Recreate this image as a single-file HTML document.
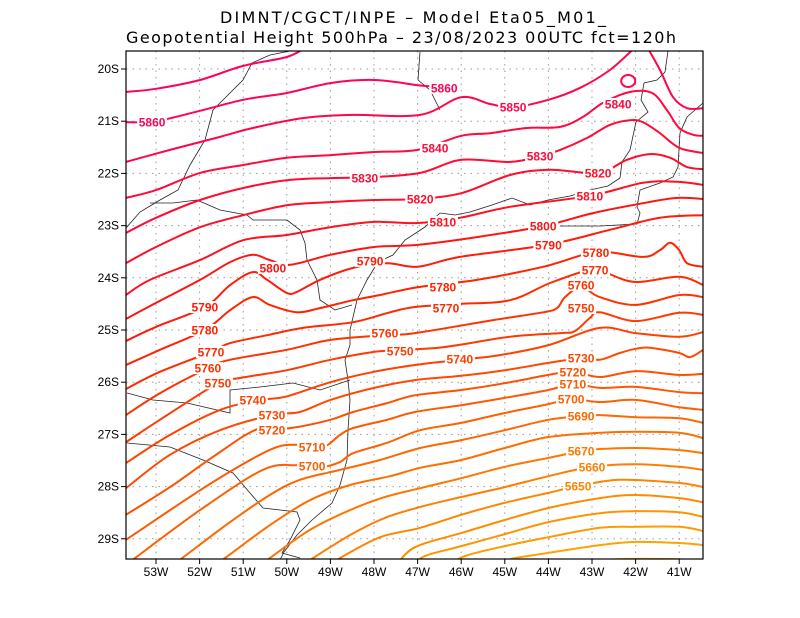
<!DOCTYPE html>
<html><head><meta charset="utf-8"><title>Geopotential Height 500hPa</title>
<style>
html,body{margin:0;padding:0;background:#fff;}
svg{display:block;font-family:"Liberation Sans",Arial,sans-serif;}
</style></head>
<body>
<svg id="chart" width="800" height="618" viewBox="0 0 800 618" xmlns="http://www.w3.org/2000/svg">
<rect x="0" y="0" width="800" height="618" fill="#fff"/>
<text x="220" y="23" font-size="16" textLength="386" lengthAdjust="spacing" style="font-family:'DejaVu Sans',sans-serif" fill="#000">DIMNT/CGCT/INPE – Model Eta05_M01_</text>
<text x="126" y="43" font-size="16" textLength="550" lengthAdjust="spacing" style="font-family:'DejaVu Sans',sans-serif" fill="#000">Geopotential Height 500hPa – 23/08/2023 00UTC fct=120h</text>
<defs><clipPath id="plotclip"><rect x="126" y="51" width="577" height="508"/></clipPath></defs>
<g id="grid"></g>
<g id="map" clip-path="url(#plotclip)">
<path d="M668 51 L665 72 L657 80 L644 83 L641 100 L648 112 L636 122 L630 150 L622 162 L620 178 L608 186 L590 190 L570 196 L548 200 L530 205 L512 198 L492 205 L470 212 L455 215 L440 213 L425 227 L405 240 L393 255 L378 262 L367 280 L357 300 L350 330 L350 345 L345 360 L348 380 L350 400 L348 430 L347 460 L340 485 L332 503 L312 520 L297 535 L284 552 L280 560" fill="none" stroke="#222" stroke-width="0.8"/>
<path d="M703 103 L687 117 L680 133 L678 167 L673 177 L660 183 L640 190 L637 207 L640 213 L637 224 L600 226 L560 226" fill="none" stroke="#222" stroke-width="0.8"/>
<path d="M126 228 L140 212 L160 200 L178 190 L190 165 L205 140 L213 110 L228 95 L243 80 L252 63 L270 55 L290 51" fill="none" stroke="#222" stroke-width="0.8"/>
<path d="M150 203 L173 203 L197 200 L220 210 L247 215 L253 220 L287 220 L300 230 L305 243 L307 260 L317 280 L320 300 L335 310 L352 305" fill="none" stroke="#222" stroke-width="0.8"/>
<path d="M127 393 L153 400 L187 403 L230 413 L230 390 L260 387 L293 383 L320 390 L350 380" fill="none" stroke="#222" stroke-width="0.8"/>
<path d="M127 443 L170 447 L203 460 L233 473 L250 493 L263 508 L297 512 L300 520 L290 540 L282 553 L300 558" fill="none" stroke="#222" stroke-width="0.8"/>
<path d="M420 52 L418 80 L430 90 L440 110" fill="none" stroke="#222" stroke-width="0.8"/>
</g>
<g id="contours" clip-path="url(#plotclip)"></g>
<g id="labels"></g>
<g id="axes"></g>
<rect x="126" y="51" width="577" height="508" fill="none" stroke="#000" stroke-width="1.2"/>
</svg>
<script>
// ---- data (lon in degrees West, lat in degrees South) ----
const lonTicks = [53,52,51,50,49,48,47,46,45,44,43,42,41];
const latTicks = [20,21,22,23,24,25,26,27,28,29];
const levels = [5870,5860,5850,5850,5840,5830,5820,5810,5800,5790,5780,5770,5760,5750,5740,5730,5720,5710,5700,5690,5680,5670,5660,5650,5640,5630,5620,5610,5600];
const lons5870 = [53.69,53.0,51.99,51.0,50.0,49.59];
const lats5870 = [20.44,20.38,20.21,19.94,19.77,19.60];
const lons5860 = [53.69,53.0,51.99,51.0,50.0,49.0,48.0,47.0,46.72];
const lats5860 = [21.02,21.0,20.80,20.59,20.46,20.27,20.21,20.31,20.33];
const lons5850 = [53.69,52.68,51.53,50.78,49.63,48.48,46.94,46.0,45.34,44.81,44.0,43.27,42.59,42.08];
const lats5850 = [21.78,21.55,21.30,21.13,20.94,20.88,20.88,20.54,20.67,20.73,20.59,20.36,20.02,19.64];
const lons5850b = [41.72,41.44,41.14,40.82,40.45];
const lats5850b = [19.60,20.02,20.54,20.75,20.75];
const lons5840 = [53.69,53.0,51.99,51.0,50.0,49.0,48.0,47.0,46.0,45.34,44.49,43.73,43.21,42.75,42.13,41.62,41.28,41.0,40.68,40.45];
const lats5840 = [22.47,22.32,21.99,21.84,21.70,21.65,21.59,21.55,21.28,21.23,21.13,21.11,20.92,20.65,20.44,20.46,20.79,21.13,21.26,21.28];
const lons5830 = [53.69,53.0,51.99,51.0,50.0,49.0,48.0,46.94,46.0,44.88,44.19,43.73,43.11,42.59,42.13,41.83,41.44,41.0,40.45];
const lats5830 = [23.14,22.85,22.51,22.28,22.13,22.09,22.07,21.99,21.74,21.78,21.67,21.55,21.32,21.07,20.98,21.02,21.23,21.51,21.61];
const lons5820 = [53.69,53.0,51.99,51.0,50.0,49.0,48.0,47.0,46.0,44.88,43.96,42.86,42.20,41.67,41.21,40.82,40.45];
const lats5820 = [23.72,23.41,23.03,22.80,22.61,22.55,22.51,22.49,22.38,22.03,21.93,21.99,21.74,21.63,21.70,21.88,21.92];
const lons5810 = [53.69,53.14,51.99,51.0,50.0,49.0,48.0,47.0,46.03,44.88,43.05,41.83,41.05,40.45];
const lats5810 = [24.33,24.04,23.66,23.28,23.18,23.03,22.93,22.95,22.85,22.64,22.43,22.18,22.16,22.22];
const lons5800 = [53.69,53.0,51.99,51.30,50.78,50.39,49.93,49.0,48.0,47.0,45.64,44.12,42.98,41.83,41.05,40.45];
const lats5800 = [24.79,24.48,24.04,23.70,23.56,23.66,23.75,23.56,23.41,23.37,23.22,23.01,22.76,22.57,22.47,22.49];
const lons5790 = [53.69,53.0,51.88,51.30,50.78,50.45,50.0,49.77,49.24,48.48,47.70,47.0,46.03,44.03,42.59,41.44,40.45];
const lats5790 = [25.21,24.94,24.56,24.14,23.89,24.04,24.29,24.27,24.04,23.81,23.72,23.79,23.60,23.37,23.08,22.85,22.80];
const lons5780 = [53.69,52.91,51.88,51.30,50.78,50.39,49.77,49.24,48.48,47.86,47.0,45.64,44.12,42.89,41.83,41.44,41.21,41.0,40.82,40.45];
const lats5780 = [25.67,25.38,25.0,24.62,24.37,24.52,24.66,24.58,24.43,24.33,24.18,24.04,23.79,23.51,23.60,23.47,23.33,23.47,23.72,23.79];
const lons5770 = [53.69,52.91,51.74,51.30,50.45,49.63,48.48,47.63,47.06,46.03,44.88,43.96,42.98,42.66,42.0,41.0,40.45];
const lats5770 = [26.13,25.80,25.42,25.25,25.10,24.96,24.85,24.66,24.56,24.50,24.43,24.10,23.83,23.91,24.08,23.98,24.14];
const lons5760 = [53.69,52.91,51.81,51.30,50.0,49.0,47.78,47.06,45.27,44.12,43.80,43.62,43.25,42.82,42.0,41.0,40.45];
const lats5760 = [26.63,26.21,25.73,25.57,25.38,25.19,25.10,25.06,24.81,24.66,24.58,24.37,24.18,24.37,24.52,24.33,24.37];
const lons5750 = [53.69,52.91,51.58,51.07,50.0,49.0,48.0,47.40,46.42,44.88,43.73,43.39,43.05,42.82,42.0,41.0,40.45];
const lats5750 = [27.15,26.72,26.02,25.92,25.77,25.57,25.42,25.38,25.33,25.13,25.06,25.02,24.77,24.66,24.83,24.67,24.71];
const lons5740 = [53.69,52.68,51.53,50.61,50.04,49.0,48.0,47.06,46.03,45.11,44.0,42.82,42.0,41.0,40.45];
const lats5740 = [27.55,27.01,26.53,26.34,26.28,26.0,25.80,25.67,25.57,25.48,25.29,24.96,25.06,25.13,25.04];
const lons5730 = [53.69,52.68,51.53,50.34,49.70,49.0,48.0,47.06,46.03,45.0,44.0,43.25,42.82,42.36,42.0,41.67,41.0,40.75,40.45];
const lats5730 = [28.03,27.39,26.92,26.63,26.57,26.34,26.11,25.96,25.88,25.77,25.63,25.54,25.57,25.44,25.36,25.34,25.44,25.52,25.38];
const lons5720 = [53.69,52.68,51.69,50.68,49.93,49.0,48.48,47.70,47.06,46.0,45.0,44.0,43.44,42.82,42.0,41.0,40.45];
const lats5720 = [28.54,28.01,27.43,26.90,26.88,26.72,26.57,26.40,26.25,26.15,26.02,25.86,25.80,25.90,25.79,25.86,25.84];
const lons5710 = [53.69,51.99,50.84,50.22,49.77,49.17,48.78,48.48,47.70,47.06,46.0,45.0,44.0,43.44,42.82,42.0,41.0,40.45];
const lats5710 = [29.02,28.07,27.49,27.24,27.20,27.24,27.01,26.88,26.72,26.57,26.44,26.30,26.15,26.03,26.11,26.09,26.19,26.21];
const lons5700 = [53.69,51.99,50.55,49.77,49.17,48.78,48.48,47.70,46.94,46.0,45.0,44.0,43.48,42.82,42.0,41.0,40.45];
const lats5700 = [29.50,28.45,27.68,27.59,27.62,27.53,27.36,27.16,26.92,26.78,26.59,26.42,26.32,26.38,26.34,26.48,26.53];
const lons5690 = [52.68,52.40,51.30,50.39,49.70,48.78,47.86,46.94,46.0,45.0,44.0,43.25,42.82,42.0,41.0,40.45];
const lats5690 = [29.54,29.37,28.68,28.16,27.87,27.68,27.49,27.26,27.11,26.92,26.72,26.65,26.63,26.67,26.69,26.78];
const lons5680 = [51.72,51.42,50.39,49.47,48.55,47.63,46.94,46.0,45.0,44.0,42.82,42.0,41.0,40.45];
const lats5680 = [29.54,29.37,28.74,28.26,27.97,27.80,27.64,27.49,27.26,27.05,26.97,26.95,26.97,27.07];
const lons5670 = [50.68,50.39,49.47,48.55,47.75,46.94,46.0,45.0,44.0,43.25,42.82,42.0,41.0,40.45];
const lats5670 = [29.54,29.37,28.83,28.45,28.20,28.03,27.84,27.62,27.45,27.32,27.28,27.26,27.30,27.36];
const lons5660 = [49.70,49.40,48.55,47.75,46.94,46.0,45.0,44.0,43.0,42.0,41.0,40.45];
const lats5660 = [29.54,29.37,28.93,28.60,28.39,28.20,28.01,27.80,27.62,27.57,27.62,27.68];
const lons5650 = [49.06,48.78,47.86,46.94,46.0,45.0,44.0,43.32,42.36,41.0,40.45];
const lats5650 = [29.54,29.37,28.97,28.79,28.54,28.31,28.12,27.99,27.87,27.93,28.01];
const lons5640 = [47.52,47.06,46.0,45.0,44.0,42.82,42.0,41.0,40.45];
const lats5640 = [29.54,29.16,28.89,28.64,28.41,28.22,28.16,28.22,28.30];
const lons5630 = [47.17,46.83,46.0,45.0,44.0,42.82,42.0,41.0,40.45];
const lats5630 = [29.54,29.33,29.14,28.91,28.68,28.51,28.47,28.49,28.58];
const lons5620 = [46.37,45.91,45.0,44.0,42.82,42.0,41.0,40.45];
const lats5620 = [29.54,29.33,29.14,28.97,28.79,28.77,28.77,28.85];
const lons5610 = [45.34,44.88,44.0,42.82,42.0,41.0,40.45];
const lats5610 = [29.54,29.39,29.27,29.12,29.06,29.08,29.12];
const lons5600 = [42.59,42.43,41.0,40.75];
const lats5600 = [29.44,29.39,29.39,29.44];
const lonSeries = [lons5870,lons5860,lons5850,lons5850b,lons5840,lons5830,lons5820,lons5810,lons5800,lons5790,lons5780,lons5770,lons5760,lons5750,lons5740,lons5730,lons5720,lons5710,lons5700,lons5690,lons5680,lons5670,lons5660,lons5650,lons5640,lons5630,lons5620,lons5610,lons5600];
const latSeries = [lats5870,lats5860,lats5850,lats5850b,lats5840,lats5830,lats5820,lats5810,lats5800,lats5790,lats5780,lats5770,lats5760,lats5750,lats5740,lats5730,lats5720,lats5710,lats5700,lats5690,lats5680,lats5670,lats5660,lats5650,lats5640,lats5630,lats5620,lats5610,lats5600];
const ringLon = [42.17];
const ringLat = [20.23];
const labelLevels = [5860,5860,5850,5840,5840,5830,5830,5820,5820,5810,5810,5800,5800,5790,5790,5790,5780,5780,5780,5770,5770,5770,5760,5760,5760,5750,5750,5750,5740,5740,5730,5730,5720,5720,5710,5710,5700,5700,5690,5670,5660,5650];
const labelLons = [53.09,46.39,44.81,46.60,42.40,48.21,44.19,46.94,42.86,46.42,43.05,50.32,44.12,48.09,44.0,51.88,46.42,42.91,51.88,46.35,42.93,51.74,51.81,47.75,43.25,51.58,47.40,43.25,50.78,46.03,50.34,43.25,50.34,43.44,49.42,43.44,49.42,43.48,43.25,43.25,43.0,43.32];
const labelLats = [21.02,20.36,20.73,21.51,20.67,22.09,21.67,22.49,21.99,22.93,22.43,23.81,23.01,23.68,23.37,24.56,24.18,23.52,25.0,24.58,23.85,25.42,25.73,25.06,24.14,26.02,25.40,24.58,26.34,25.56,26.63,25.54,26.92,25.80,27.24,26.03,27.61,26.32,26.65,27.32,27.62,27.99];

// ---- axis functions ----
function xOf(lonW){ return 156 + (53 - lonW) * 43.6; }
function yOf(latS){ return 69 + (latS - 20) * 52.2; }
function colorOf(L){
  let r=255,g,b;
  if (L >= 5800){ const t=(L-5800)/70; g=Math.round(20-20*t); b=Math.round(20+75*t); }
  else { g=Math.round(20+(5800-L)*0.75); b=Math.max(0,Math.round(20-(5800-L))); }
  return 'rgb('+r+','+g+','+b+')';
}
function smoothPath(pts){
  let d='M'+pts[0][0].toFixed(1)+' '+pts[0][1].toFixed(1);
  for(let i=0;i<pts.length-1;i++){
    const p0=pts[i-1]||pts[i], p1=pts[i], p2=pts[i+1], p3=pts[i+2]||p2;
    const c1=[p1[0]+(p2[0]-p0[0])/6, p1[1]+(p2[1]-p0[1])/6];
    const c2=[p2[0]-(p3[0]-p1[0])/6, p2[1]-(p3[1]-p1[1])/6];
    d+=' C'+c1[0].toFixed(1)+' '+c1[1].toFixed(1)+' '+c2[0].toFixed(1)+' '+c2[1].toFixed(1)+' '+p2[0].toFixed(1)+' '+p2[1].toFixed(1);
  }
  return d;
}
const NS='http://www.w3.org/2000/svg';
function mk(tag, attrs, parent){
  const e=document.createElementNS(NS,tag);
  for(const k in attrs) e.setAttribute(k,attrs[k]);
  parent.appendChild(e); return e;
}
const grid=document.getElementById('grid');
lonTicks.forEach(function(lon){
  const x=xOf(lon);
  const l=mk('line',{x1:x,y1:51,x2:x,y2:559,stroke:'#9a9a9a','stroke-width':1,'stroke-dasharray':'1.5,5'},grid);
  
  
});
latTicks.forEach(function(lat){
  const y=yOf(lat);
  const l=mk('line',{x1:126,y1:y,x2:703,y2:y,stroke:'#9a9a9a','stroke-width':1,'stroke-dasharray':'1.5,5'},grid);
  
  
});
const cg=document.getElementById('contours');
levels.forEach(function(L,i){
  const pts=lonSeries[i].map(function(lon,j){ return [xOf(lon), yOf(latSeries[i][j])]; });
  const p=mk('path',{d:smoothPath(pts),fill:'none',stroke:colorOf(L),'stroke-width':2,'stroke-linejoin':'round'},cg);
  
  
});
ringLon.forEach(function(lon,i){
  const e=mk('ellipse',{cx:xOf(lon),cy:yOf(ringLat[i]),rx:7,ry:6,fill:'none',stroke:colorOf(5850),'stroke-width':2},cg);
  
  
});
const lg=document.getElementById('labels');
labelLevels.forEach(function(L,i){
  const x=xOf(labelLons[i]), y=yOf(labelLats[i]);
  const r=mk('rect',{x:x-15,y:y-6,width:30,height:12,fill:'#fff'},lg);
  
  
  const t=mk('text',{x:x,y:y+4.5,'font-size':12,'font-weight':'bold','text-anchor':'middle',fill:colorOf(L)},lg);
  t.textContent=String(L);
  
  
});
const ag=document.getElementById('axes');
lonTicks.forEach(function(lon){
  const x=xOf(lon);
  const tk=mk('line',{x1:x,y1:559,x2:x,y2:564,stroke:'#000','stroke-width':1},ag);
  
  
  const t=mk('text',{x:x,y:576,'font-size':12,'text-anchor':'middle',fill:'#000'},ag);
  t.textContent=lon+'W';
  
  
});
latTicks.forEach(function(lat){
  const y=yOf(lat);
  const tk=mk('line',{x1:121,y1:y,x2:126,y2:y,stroke:'#000','stroke-width':1},ag);
  
  
  const t=mk('text',{x:119,y:y+4,'font-size':12,'text-anchor':'end',fill:'#000'},ag);
  t.textContent=lat+'S';
  
  
});
</script>
</body></html>
